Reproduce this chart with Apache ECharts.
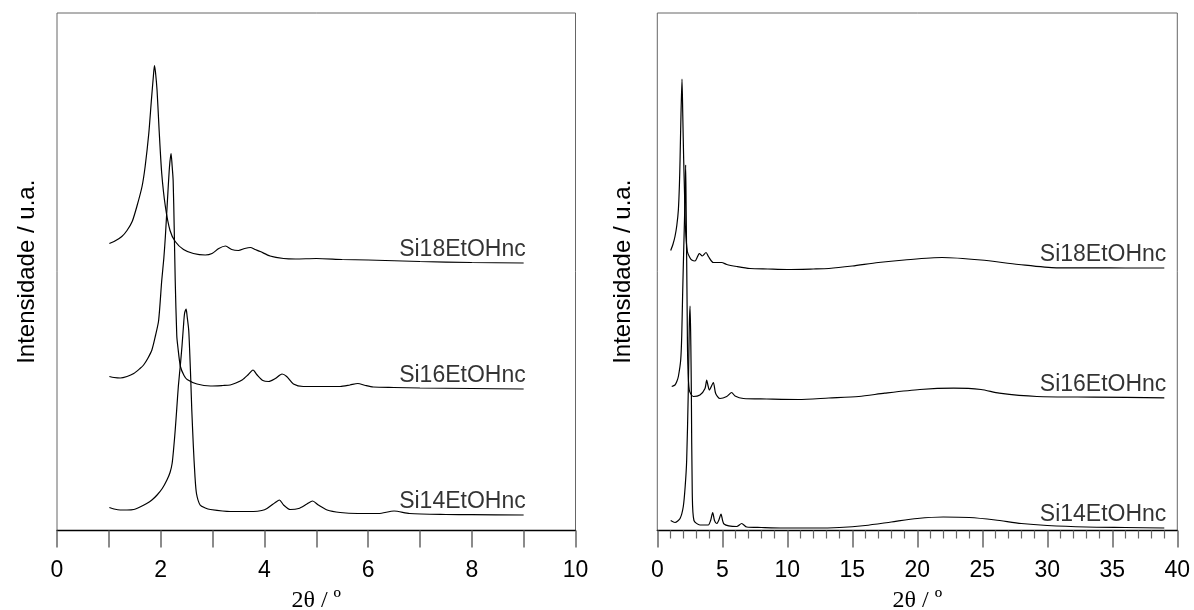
<!DOCTYPE html>
<html>
<head>
<meta charset="utf-8">
<script src="https://cdn.jsdelivr.net/npm/echarts@6/dist/echarts.min.js"></script>
<style>html,body{margin:0;padding:0;background:#fff}#c{width:1194px;height:610px}</style>
</head>
<body>
<div id="c"></div>
<script>
// ---- data (2θ in degrees, intensity in arbitrary units incl. vertical offset) ----
const seriesNames = ['Si18EtOHnc', 'Si16EtOHnc', 'Si14EtOHnc'];
const xAxisTitle = '2\u03B8 / \u00BA';
const yAxisTitle = 'Intensidade / u.a.';

const leftSi18 = [[1.01,287],[1.1,289],[1.25,294],[1.35,300],[1.45,309],[1.54,324],[1.64,344],[1.70,364],[1.77,397],[1.82,430],[1.86,455],[1.88,465],[1.90,458],[1.93,440],[1.97,400],[2.02,357],[2.09,324],[2.18,300],[2.28,289],[2.44,281],[2.63,277],[2.86,275.5],[2.99,277],[3.12,282],[3.25,284.5],[3.37,281],[3.50,280],[3.62,282],[3.73,283],[3.82,281],[3.92,279],[4.11,274.5],[4.37,272],[4.6,271.5],[5.0,272],[5.5,271],[6.0,270.5],[7.0,269],[8.0,268],[9.0,267.5]];
const leftSi16 = [[1.01,154],[1.1,153],[1.22,152.5],[1.35,154],[1.48,157],[1.60,162],[1.67,165.5],[1.75,172],[1.83,180.5],[1.90,195],[1.96,210],[2.02,250],[2.06,272],[2.09,294],[2.13,330],[2.17,364],[2.20,377],[2.22,365],[2.24,350],[2.26,304],[2.28,250],[2.31,195],[2.33,184],[2.38,164],[2.45,155],[2.51,151],[2.70,146.5],[2.96,144.5],[3.20,145],[3.34,145.5],[3.45,147.5],[3.57,150.5],[3.69,156],[3.78,160.5],[3.86,155.5],[3.97,150],[4.08,149],[4.21,152],[4.34,156.5],[4.43,154],[4.56,146.5],[4.75,144],[5.14,144],[5.46,144],[5.65,145.5],[5.80,147],[5.95,145],[6.10,143.5],[6.5,143],[7.0,142.5],[8.0,142],[9.0,141.5]];
const leftSi14 = [[1.01,23],[1.1,21.5],[1.22,20.5],[1.35,20.5],[1.48,21],[1.60,23.5],[1.73,27],[1.83,30.5],[1.93,35.5],[2.03,42],[2.12,50.5],[2.18,58],[2.22,67],[2.25,82],[2.28,100.5],[2.31,122],[2.34,144],[2.38,166],[2.41,184],[2.44,205],[2.46,217],[2.49,221.5],[2.51,214],[2.54,200.5],[2.56,178],[2.58,150.5],[2.60,120],[2.63,84],[2.66,55],[2.69,37],[2.76,25.5],[2.86,22.5],[2.96,21],[3.34,19],[3.79,19],[3.95,20],[4.05,22],[4.21,28],[4.29,30.5],[4.37,25.5],[4.50,21],[4.66,22],[4.82,26.5],[4.93,29.5],[5.04,25.5],[5.21,20.5],[5.46,18],[5.8,17],[6.2,17],[6.5,19.5],[6.8,17],[7.5,16],[8.0,15.8],[9.0,15.5]];

const rightSi18 = [[1.03,280],[1.2,286],[1.36,294],[1.50,305],[1.62,320.5],[1.70,345],[1.75,370.5],[1.82,415],[1.90,451.5],[1.96,415],[2.03,370.5],[2.10,335],[2.16,304],[2.31,279],[2.50,273],[2.65,270.5],[2.90,269.5],[3.10,274],[3.23,277],[3.46,274.5],[3.75,278],[3.93,274],[4.31,268],[4.95,268],[5.34,266],[6.11,264],[7.13,262],[8.5,261.5],[10.0,261],[12.0,261.5],[13.2,262],[15.0,264.5],[17.0,268],[19.0,270.5],[21.9,273],[24.9,270.5],[27.8,266],[30.7,262.7],[33.6,262.7],[36.0,262.5],[39.0,262.5]];
const rightSi16 = [[1.11,144],[1.36,145.5],[1.50,149],[1.62,154],[1.80,170.5],[1.88,195],[1.95,237],[2.03,280],[2.11,320.5],[2.18,365.5],[2.22,320],[2.26,270.5],[2.30,215],[2.34,170.5],[2.46,140.5],[2.77,134],[3.28,135.5],[3.67,142],[3.80,150.5],[3.90,145],[4.0,140.5],[4.31,148],[4.49,137],[4.82,132],[5.34,134],[5.72,138],[5.98,134.5],[6.62,132],[8.41,131.5],[10.85,131],[13.2,132.5],[15.5,134],[17.5,137.3],[20.2,141],[22.8,142.3],[24.9,141],[26.3,137.3],[29.2,134],[33.6,133.4],[39.0,132.6]];
const rightSi14 = [[1.03,10],[1.36,8],[1.75,12],[2.0,24],[2.15,45],[2.26,70.5],[2.38,137],[2.46,204],[2.52,224.5],[2.58,185],[2.62,137],[2.69,37],[2.82,10],[3.28,5.5],[3.92,5.5],[4.10,10],[4.26,18],[4.40,10],[4.57,7],[4.75,11],[4.90,16.5],[5.13,6.5],[6.11,4],[6.49,7],[6.88,3.5],[8.0,3],[9.7,2.5],[12.0,2.5],[14.0,3],[16.0,5],[18.0,8.5],[20.0,12],[22.0,13.5],[24.0,13],[26.0,10.5],[28.0,7],[30.0,5],[33.0,3.5],[36.0,3],[39.0,2.5]];

const panels = [
  { grid: 0, curves: [leftSi18, leftSi16, leftSi14] },
  { grid: 1, curves: [rightSi18, rightSi16, rightSi14] }
];

// ---- chart ----
const chart = echarts.init(document.getElementById('c'), null, { renderer: 'canvas' });
const sans = '"Liberation Sans", Arial, Helvetica, sans-serif';
const serif = '"Liberation Serif", "Times New Roman", serif';

function xAxisFor(gridIndex, max, interval, labelEvery, minor) {
  return {
    type: 'value', gridIndex, min: 0, max, interval,
    axisLine: { show: true, onZero: false, lineStyle: { color: '#000', width: 1.3 } },
    axisTick: { show: true, inside: false, length: 17, lineStyle: { color: '#666', width: 1.5 } },
    minorTick: { show: minor, splitNumber: 5, length: 8, lineStyle: { color: '#666', width: 1.2 } },
    splitLine: { show: false },
    axisLabel: {
      color: '#000', fontFamily: sans, fontSize: 23, margin: 29,
      formatter: v => (Math.round(v) % labelEvery === 0 ? String(Math.round(v)) : '')
    },
    name: xAxisTitle, nameLocation: 'middle', nameGap: 58,
    nameTextStyle: { color: '#000', fontFamily: serif, fontSize: 24 }
  };
}
function yAxisFor(gridIndex, gap) {
  return {
    type: 'value', gridIndex, min: 0, max: 517.5,
    axisLine: { show: false }, axisTick: { show: false }, axisLabel: { show: false },
    splitLine: { show: false },
    name: yAxisTitle, nameLocation: 'middle', nameGap: gap, nameRotate: 90,
    nameTextStyle: { color: '#000', fontFamily: sans, fontSize: 24 }
  };
}

const series = [];
panels.forEach(p => {
  p.curves.forEach((data, i) => {
    series.push({
      type: 'line', xAxisIndex: p.grid, yAxisIndex: p.grid, data,
      showSymbol: false, symbol: 'none', smooth: 0.25, animation: false,
      lineStyle: { color: '#000', width: 1.2 }, silent: true
    });
    series.push({
      type: 'scatter', xAxisIndex: p.grid, yAxisIndex: p.grid,
      data: [data[data.length - 1]], symbolSize: 0.1, animation: false, silent: true,
      itemStyle: { color: 'transparent' },
      label: {
        show: true, position: 'insideBottomRight', distance: 0, offset: [2, -2],
        formatter: seriesNames[i], color: '#000', fontFamily: sans, fontSize: 23
      }
    });
  });
});

const gridBase = { top: 13, height: 517.5, show: true, borderColor: '#666', borderWidth: 1, backgroundColor: 'transparent', containLabel: false, outerBoundsMode: 'none' };
chart.setOption({
  backgroundColor: '#fff',
  animation: false,
  grid: [
    Object.assign({ left: 57, width: 518.5 }, gridBase),
    Object.assign({ left: 657.3, width: 520 }, gridBase)
  ],
  xAxis: [xAxisFor(0, 10, 1, 2, false), xAxisFor(1, 40, 5, 5, true)],
  yAxis: [yAxisFor(0, 18), yAxisFor(1, 22)],
  series
});
</script>
</body>
</html>
